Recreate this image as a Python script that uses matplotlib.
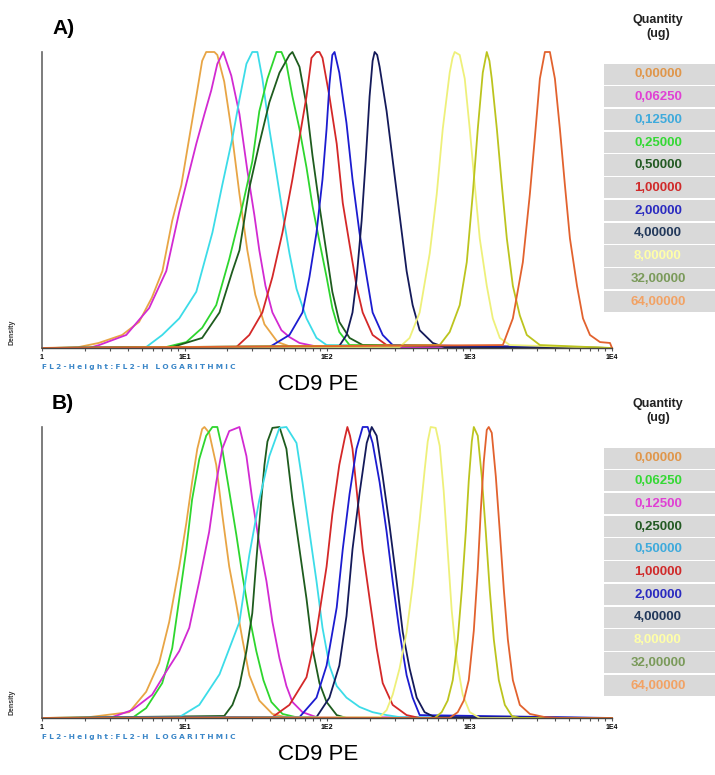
import matplotlib
matplotlib.use("Agg")
import matplotlib.pyplot as plt
from matplotlib.patches import Rectangle

plt.rcParams['font.family'] = ['Liberation Sans', 'DejaVu Sans']

# legend labels (quantity, ug)
QUANTITIES = ["0,00000", "0,06250", "0,12500", "0,25000", "0,50000", "1,00000",
              "2,00000", "4,00000", "8,00000", "32,00000", "64,00000"]

TICK_VALUES = [1, 10, 100, 1000, 10000]
TICK_LABELS = ["1", "1E1", "1E2", "1E3", "1E4"]

# ---- panel A histograms (FL2-H value, % of max) ----
a_q0_x = [1.8, 2.5, 3.65, 4.8, 5.9, 7.0, 8.2, 9.5, 10.8, 12.1, 13.3, 14.2, 16.2, 17.0, 19.0, 21.3, 24.3, 27.6, 31.4, 36.4, 45, 59]
a_q0_y = [0.3, 1.7, 4.4, 8.8, 17, 26, 43, 55, 71, 85, 97, 100, 100, 99, 90, 74, 52, 33, 18, 8, 2, 0]
a_q1_x = [2.14, 2.52, 3.9, 5.65, 7.45, 9.19, 12.1, 13.8, 15.4, 17.0, 18.7, 21.3, 24.3, 27.6, 30.9, 33.5, 37.0, 41.4, 47.9, 54.5, 64.1, 88.5]
a_q1_y = [0, 1, 4.4, 13.5, 26, 46, 69, 79, 87, 96, 100, 92, 79, 60, 45, 33, 21, 12, 6, 3.7, 1.7, 0.3]
a_q2_x = [5.38, 6.98, 9.19, 12.1, 15.7, 18.4, 21.7, 24.3, 27.2, 29.9, 32.5, 35.2, 39.4, 44.2, 48.7, 54.5, 61.1, 71.8, 84.4, 99.3]
a_q2_y = [0.3, 4.4, 10, 19, 39, 55, 71, 84, 96, 100, 100, 91, 74, 59, 46, 32, 20, 10, 3.4, 1]
a_q3_x = [6.98, 10.3, 13.3, 16.7, 20.6, 25.5, 29.9, 33.5, 38.2, 44.2, 47.9, 51.9, 57.2, 64.1, 71.8, 79.1, 88.5, 99.3, 109, 122, 144]
a_q3_y = [0, 2, 6.8, 14.5, 30, 48, 63, 80, 91, 100, 100, 96, 85, 74, 61, 48, 36, 24, 13.5, 5.4, 1]
a_q4_x = [8.2, 13.3, 17.6, 21.7, 24.3, 28.5, 33.5, 39.4, 46.4, 54.5, 57.2, 64.1, 71.8, 79.1, 88.5, 99.3, 109, 122, 144, 178]
a_q4_y = [0.3, 3.4, 12, 26, 33, 54, 69, 83, 93, 99, 100, 95, 82, 65, 48, 32, 19, 8.8, 3.4, 1]
a_q5_x = [23.1, 28.5, 35.2, 41.4, 48.7, 57.2, 64.1, 71.8, 77.8, 84.4, 88.5, 93.0, 104, 117, 129, 144, 161, 178, 209, 262]
a_q5_y = [0.3, 4.4, 12, 24, 39, 57, 71, 85, 98, 100, 100, 98, 85, 69, 49, 35, 21, 12, 4.4, 1]
a_q6_x = [39.4, 54.5, 67.3, 75.3, 84.4, 93.0, 99.3, 104, 109, 113, 122, 137, 151, 169, 190, 209, 246, 289]
a_q6_y = [0.3, 4.4, 12, 24, 39, 57, 74, 89, 99, 100, 93, 76, 57, 39, 24, 12, 4.4, 1]
a_q7_x = [122, 137, 151, 161, 175, 187, 199, 209, 216, 225, 234, 262, 289, 323, 362, 399, 447, 552, 670]
a_q7_y = [0.7, 4.4, 12, 23, 43, 63.5, 85, 97, 100, 99, 95, 80, 63.5, 45, 26, 14.5, 6, 1.7, 0.3]
a_q8_x = [323, 380, 447, 526, 589, 649, 726, 760, 787, 854, 926, 1004, 1089, 1180, 1322, 1457, 1632, 1918]
a_q8_y = [0.3, 3.4, 12, 32, 52, 74, 93, 98, 100, 99, 91, 74, 55, 37, 21, 10, 3.4, 1]
a_q9_x = [618, 726, 854, 957, 1054, 1143, 1239, 1322, 1380, 1433, 1556, 1686, 1828, 2015, 2255, 2525, 3118]
a_q9_y = [1, 5.4, 14.5, 29, 52, 74, 93, 100, 97, 91, 74, 55, 37, 21, 11, 4.4, 1]
a_q10_x = [1714, 2015, 2368, 2652, 2874, 3118, 3381, 3666, 3975, 4309, 4673, 5068, 5680, 6257, 7004, 8236, 9680]
a_q10_y = [1, 10, 29, 52, 71, 91, 100, 100, 91, 74, 55, 37, 21, 10, 4.4, 2, 1.7]

# ---- panel B histograms ----
b_q0_x = [2.14, 4.09, 5.38, 6.64, 7.81, 9.19, 10.3, 11.3, 12.3, 13.3, 13.8, 14.9, 16.7, 18.4, 20.6, 23.1, 25.5, 28.5, 33.5, 41.4, 54.5]
b_q0_y = [0.3, 2, 9, 19, 33, 52, 67, 81, 92.5, 99.3, 100, 98, 87, 70, 52, 39, 27, 14.7, 6, 1.4, 0]
b_q1_x = [4.29, 5.38, 6.98, 8.2, 9.19, 10.3, 11.3, 12.7, 14.2, 15.7, 17.0, 18.4, 20.6, 23.1, 25.5, 28.5, 31.9, 35.8, 40.7, 48.7, 64.1]
b_q1_y = [0, 3.4, 12, 24, 41, 58, 75, 89, 97, 100, 100, 92.5, 78, 63, 49, 35, 23, 13, 5.5, 1.4, 0]
b_q2_x = [2.14, 3.1, 4.29, 5.93, 7.45, 9.19, 10.8, 12.7, 14.9, 16.7, 18.4, 20.6, 24.3, 27.2, 29.9, 33.5, 37.6, 41.4, 46.4, 51.9, 57.2, 67.3, 84.4]
b_q2_y = [0, 0.3, 2.7, 8, 16, 23, 31, 47, 64, 81, 92.5, 98.6, 100, 90, 75, 60, 47, 33, 20.5, 11, 5.5, 2, 0.3]
b_q3_x = [19.0, 21.7, 24.3, 27.2, 29.9, 31.9, 34.6, 36.4, 38.2, 41.4, 46.4, 51.9, 57.2, 64.1, 71.8, 79.1, 88.5, 99.3, 117, 137]
b_q3_y = [0.7, 4.5, 11, 23, 36, 54, 75, 87, 95, 99.7, 100, 92.5, 75, 58, 41, 24, 12, 5.5, 1, 0]
b_q4_x = [9.19, 12.7, 17.6, 24.3, 28.5, 33.5, 39.4, 46.4, 51.9, 61.1, 67.3, 75.3, 84.4, 93.0, 104, 117, 137, 169, 209, 262, 323]
b_q4_y = [0.3, 4.5, 15, 33, 56, 75, 90, 99.7, 100, 94.5, 81, 64, 47, 31, 18, 11, 7, 3.8, 2, 1, 0.3]
b_q5_x = [41.4, 54.5, 71.8, 84.4, 99.3, 109, 122, 133, 139, 145, 151, 164, 178, 199, 223, 246, 289, 362, 447]
b_q5_y = [0.3, 4.5, 14, 29.5, 52, 70, 87, 96, 100, 97, 92.5, 75, 58, 41, 24, 12, 4.5, 1, 0]
b_q6_x = [64.1, 84.4, 99.3, 117, 129, 144, 161, 178, 193, 209, 234, 262, 289, 323, 362, 399, 447]
b_q6_y = [0.3, 7, 18, 38, 58, 77, 92.5, 100, 100, 94.5, 81, 64, 47, 29.5, 14.7, 7, 1]
b_q7_x = [84.4, 104, 122, 137, 151, 169, 190, 206, 223, 246, 275, 308, 340, 380, 426, 484, 570]
b_q7_y = [0.3, 7, 18, 35, 58, 77, 94.5, 100, 97, 83, 66, 47, 29.5, 17, 7, 2, 0.3]
b_q8_x = [234, 262, 289, 323, 362, 399, 447, 484, 509, 534, 579, 618, 659, 703, 750, 813, 896, 1004, 1180]
b_q8_y = [0.3, 2.7, 8, 17, 29.5, 45.5, 68, 85, 95, 100, 99.7, 93.5, 78, 57.5, 37, 20, 8, 2, 0]
b_q9_x = [570, 638, 703, 763, 827, 883, 942, 988, 1038, 1072, 1143, 1219, 1301, 1387, 1481, 1606, 1770, 1983, 2255]
b_q9_y = [0, 2, 6, 13, 27, 44, 64, 81.5, 95, 100, 97, 83, 64, 44, 27, 13, 4.5, 0.7, 0]
b_q10_x = [726, 827, 912, 988, 1072, 1143, 1199, 1259, 1322, 1365, 1433, 1530, 1632, 1742, 1858, 2015, 2255, 2652, 3381, 4309]
b_q10_y = [0, 2, 6, 13, 30, 51, 71, 88, 99, 100, 98, 83, 64, 44, 27, 13, 4.5, 1.4, 0.3, 0]

# line colours per series, in legend order
ORANGE, MAGENTA, CYAN, LIME = '#e8a545', '#d22ad2', '#3cdce8', '#2ed62e'
DKGREEN, RED, BLUE, NAVY = '#1e5c1e', '#d42828', '#1c1cd0', '#141a5a'
PALEYEL, OLIVE, ORANGERED = '#eef07a', '#bcc41e', '#e2622e'
COLORS_A = [ORANGE, MAGENTA, CYAN, LIME, DKGREEN, RED, BLUE, NAVY, PALEYEL, OLIVE, ORANGERED]
COLORS_B = [ORANGE, LIME, MAGENTA, DKGREEN, CYAN, RED, BLUE, NAVY, PALEYEL, OLIVE, ORANGERED]

# text colours of the legend rows
TXT = {ORANGE: '#e0964a', MAGENTA: '#e040d4', CYAN: '#3eaadc', LIME: '#34d834',
       DKGREEN: '#235a23', RED: '#d02a2a', BLUE: '#2a2ac0', NAVY: '#22385a',
       PALEYEL: '#ffffa8', OLIVE: '#7a9a5a', ORANGERED: '#f2a264'}

curves_a = [(a_q0_x, a_q0_y), (a_q1_x, a_q1_y), (a_q2_x, a_q2_y), (a_q3_x, a_q3_y),
            (a_q4_x, a_q4_y), (a_q5_x, a_q5_y), (a_q6_x, a_q6_y), (a_q7_x, a_q7_y),
            (a_q8_x, a_q8_y), (a_q9_x, a_q9_y), (a_q10_x, a_q10_y)]
curves_b = [(b_q0_x, b_q0_y), (b_q1_x, b_q1_y), (b_q2_x, b_q2_y), (b_q3_x, b_q3_y),
            (b_q4_x, b_q4_y), (b_q5_x, b_q5_y), (b_q6_x, b_q6_y), (b_q7_x, b_q7_y),
            (b_q8_x, b_q8_y), (b_q9_x, b_q9_y), (b_q10_x, b_q10_y)]

W, H = 715, 775
fig = plt.figure(figsize=(W / 100, H / 100), dpi=100)


def fx(px):
    return px / W


def fy(py):
    return 1 - py / H


def draw_panel(top, bottom, curves, colors, letter, legend_top, legend_bottom):
    ax = fig.add_axes([fx(42), fy(bottom), fx(612) - fx(42), (bottom - top) / H])
    for (xs, ys), c in zip(curves, colors):
        ax.plot([1] + xs + [10000], [0] + ys + [0], color=c, lw=1.3, clip_on=False)
    ax.set_xscale('log')
    ax.set_xlim(1, 10000)
    ax.set_ylim(0, 100)
    ax.set_yticks([])
    ax.set_xticks(TICK_VALUES)
    ax.set_xticklabels(TICK_LABELS, fontsize=5, fontweight='bold')
    ax.tick_params(axis='x', which='both', direction='out', length=2.5, width=0.8,
                   color='#555555', pad=2)
    for s in ['top', 'right']:
        ax.spines[s].set_visible(False)
    ax.spines['left'].set_color('#666666')
    ax.spines['left'].set_linewidth(1.2)
    ax.spines['bottom'].set_color('#444444')
    ax.spines['bottom'].set_linewidth(1.0)

    fig.text(fx(12), fy(bottom - 16), "Density", rotation=90, fontsize=5,
             fontweight='bold', ha='center', va='center', color='#333333')
    fig.text(fx(42), fy(bottom + 19), "\u2009\u200a".join("FL2-Height:FL2-H LOGARITHMIC"),
             fontsize=5.3, fontweight='bold', color='#3a86c8', ha='left', va='center',
             family=['DejaVu Sans'])
    fig.text(fx(318), fy(bottom + 36), "CD9 PE", fontsize=16, ha='center', va='center')
    fig.text(fx(52), fy(top - 23), letter, fontsize=15, fontweight='bold',
             ha='left', va='center')

    # legend table
    fig.text(fx(658), fy(legend_top - 43), "Quantity", fontsize=9, fontweight='bold',
             ha='center', va='center', color='#222222')
    fig.text(fx(658), fy(legend_top - 29), "(ug)", fontsize=9, fontweight='bold',
             ha='center', va='center', color='#222222')
    row_h = (legend_bottom - legend_top) / len(QUANTITIES)
    for i, (lab, c) in enumerate(zip(QUANTITIES, colors)):
        y0 = legend_top + i * row_h
        fig.add_artist(Rectangle((fx(604), fy(y0 + row_h - 1)), fx(715) - fx(604),
                                 (row_h - 1.5) / H, transform=fig.transFigure,
                                 facecolor='#d9d9d9', edgecolor='none'))
        fig.text(fx(658), fy(y0 + row_h / 2), lab, fontsize=9.5, fontweight='bold',
                 ha='center', va='center', color=TXT[c])


draw_panel(52, 348, curves_a, COLORS_A, "A)", 63, 313)
draw_panel(427, 718, curves_b, COLORS_B, "B)", 447, 697)

fig.savefig("out.png", dpi=100)
